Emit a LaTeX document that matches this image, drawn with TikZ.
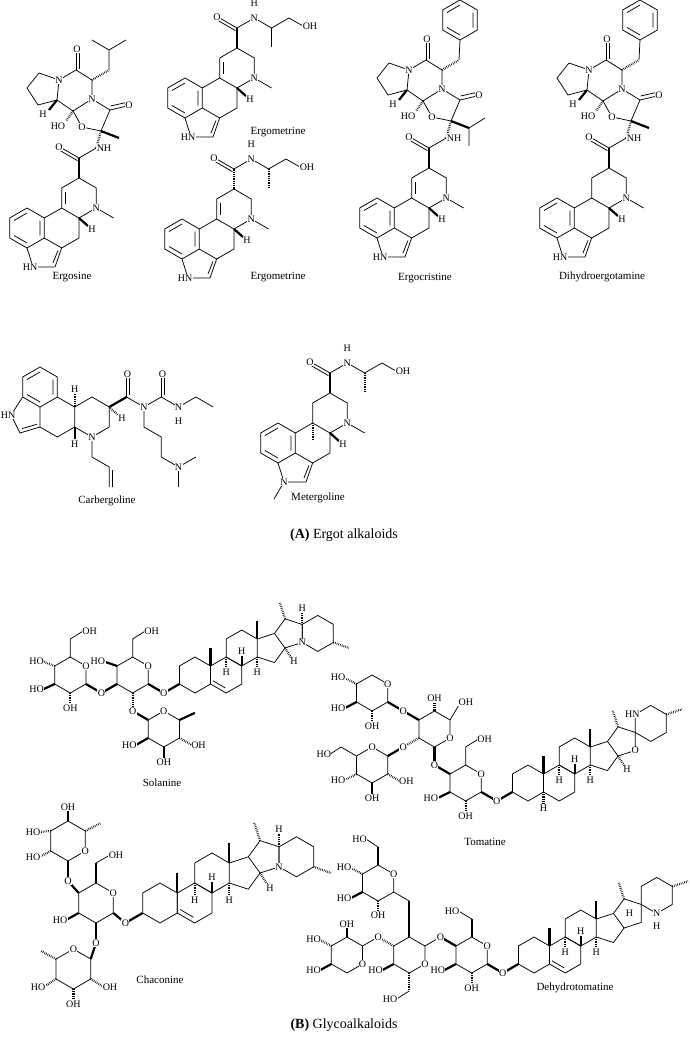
\documentclass[tikz,border=0pt]{standalone}
\usepackage{fontspec}
\setmainfont{Liberation Serif}
\usetikzlibrary{positioning}

% pointy-top ring of unit bond length, centred at (#1,#2)
\newcommand\hexa[2]{\draw (#1,#2) ++(0,-1) -- ++(.866,.5) -- ++(0,1) -- ++(-.866,.5) -- ++(-.866,-.5) -- ++(0,-1) -- cycle;}
\newcommand\arom[2]{\draw (#1,#2) ++(-.65,-.375) -- ++(.65,-.375) (#1,#2) ++(.65,-.375) -- ++(0,.75) (#1,#2) ++(0,.75) -- ++(-.65,-.375);}

% ergoline skeleton, #1 = 1 for the 9,10 double bond
\newcommand\ergoline[1]{%
  \hexa{0}{0} \arom{0}{0}
  \draw (.866,-.5) -- (1.732,-1) -- (2.598,-.5) -- (2.598,.5) -- (1.732,1) -- (.866,.5);
  \draw (0,1) -- (.3,1.95) -- (1.4,1.95) -- (1.732,1);
  \draw (1.3,1.75) -- (1.55,1.12);
  \draw (1.732,-1) -- (1.732,-2) -- (2.598,-2.5) -- (3.464,-2) -- (3.464,-1) -- (2.598,-.5);
  \draw (3.464,-1) -- (4.33,-.5);
  \ifnum#1=1 \draw (1.9,-1.2) -- (1.9,-1.8);\fi
  \draw[wedge] (2.598,-.5) -- (3.05,-.1);
  \node[atom] at (3.25,.05) {H};
  \node[atom] at (3.464,-1) {N};
}
\newcommand\amide[1]{%
  \draw[#1] (2.598,-2.5) -- (2.598,-3.5);
  \draw (2.598,-3.5) -- (3.464,-4) (2.598,-3.5) -- (1.732,-4) (2.52,-3.37) -- (1.66,-3.87);
  \node[atom] at (1.6,-4.05) {O};
}
\newcommand\hydroxyprop[1]{%
  \draw (3.464,-4) -- (4.33,-3.5) -- (5.196,-4) -- (5.9,-3.6);
  \draw[#1] (4.33,-3.5) -- (4.33,-2.55);
  \node[atom] at (3.464,-4) {N};
  \node[atom] at (3.464,-4.75) {H};
  \node[atom,anchor=west] at (5.85,-3.6) {OH};
}
% cyclol peptide, #1 = 1 isobutyl / 2 benzyl, #2 = 1 methyl / 2 isopropyl
\newcommand\cyclol[2]{%
  \draw[hash] (3.464,-4) -- (3.7,-4.85);
  \draw (3.7,-4.85) -- (2.75,-5.05) -- (2.3,-5.85) -- (3.25,-6.45) -- (4.15,-5.9) -- cycle;
  \draw (4.15,-5.9) -- (5.0,-6.1) (4.18,-6.1) -- (4.98,-6.28);
  \draw (3.25,-6.45) -- (3.25,-7.4) -- (2.45,-7.9) -- (1.6,-7.4) -- (1.5,-6.4) -- (2.3,-5.85);
  \draw (2.45,-7.9) -- (2.45,-8.8) (2.62,-7.95) -- (2.62,-8.8);
  \draw (1.6,-7.4) -- (.6,-7.75) -- (0,-7.0) -- (.55,-6.15) -- (1.5,-6.4);
  \draw[wedge] (1.5,-6.4) -- (1.1,-5.9);
  \draw[hash] (2.3,-5.85) -- (1.95,-5.35);
  \draw[hash] (3.25,-7.4) -- (4.1,-7.9);
  \ifnum#1=1 \draw (4.1,-7.9) -- (4.1,-8.9) -- (3.25,-9.4) (4.1,-8.9) -- (4.95,-9.4);\fi
  \ifnum#1=2 \draw (4.1,-7.9) -- (4.15,-8.9); \hexa{4.15}{-9.9} \arom{4.15}{-9.9}\fi
  \ifnum#2=1 \draw[wedge] (3.7,-4.85) -- (4.6,-4.5);\fi
  \ifnum#2=2 \draw[wedge] (3.7,-4.85) -- (4.6,-4.5); \draw (4.6,-4.5) -- (5.4,-5.0) (4.6,-4.5) -- (4.6,-3.6);\fi
  \node[atom] at (3.85,-4) {NH};
  \node[atom] at (2.75,-5.05) {O};
  \node[atom] at (3.25,-6.45) {N};
  \node[atom] at (5.1,-6.15) {O};
  \node[atom] at (1.6,-7.4) {N};
  \node[atom] at (2.5,-8.95) {O};
  \node[atom] at (.8,-5.7) {H};
  \node[atom] at (1.55,-5.1) {HO};
}
% steroid nucleus with 3-O, #1 = 1 for the 5,6 double bond
\newcommand\steroid[1]{%
  \hexa{0}{0} \hexa{1.732}{0} \hexa{2.598}{-1.5}
  \draw (3.464,-2) -- (4.415,-2.309) -- (5.003,-1.5) -- (4.415,-.691) -- (3.464,-1);
  \draw[wedge] (.866,-.5) -- (.866,-1.5);
  \draw[wedge] (3.464,-2) -- (3.464,-3);
  \draw[wedge] (-.866,.5) -- (-1.732,1);
  \ifnum#1=1 \draw (1.0,.32) -- (1.68,.72);\fi
  \draw[hash] (1.732,-1) -- (1.732,-.4);
  \draw[wedge] (2.598,-.5) -- (2.598,-1.05);
  \draw[hash] (3.464,-1) -- (3.464,-.4);
  \node[atom] at (1.732,-.15) {H};
  \node[atom] at (2.598,-1.3) {H};
  \node[atom] at (3.464,-.15) {H};
  \node[atom] at (-1.732,1) {O};
}
\newcommand\solanidine{%
  \draw (4.415,-2.309) -- (5.003,-3.119) -- (5.954,-2.81) -- (5.954,-1.81) -- (5.003,-1.5);
  \hexa{6.82}{-2.31}
  \draw[hash] (5.003,-3.119) -- (4.7,-4.05);
  \draw[hash] (5.954,-2.81) -- (5.954,-3.45);
  \draw[hash] (5.003,-1.5) -- (5.35,-.95);
  \draw[hash] (7.686,-1.81) -- (8.55,-1.5);
  \node[atom] at (5.954,-3.7) {H};
  \node[atom] at (5.5,-.75) {H};
  \node[atom] at (5.954,-1.81) {N};
}
% spiro ring F, #1 = 1 oxolane (tomatine) / 2 carbocycle (dehydrotomatine)
\newcommand\spiro[1]{%
  \draw (4.415,-2.309) -- (5.003,-3.119) -- (5.954,-2.81) -- (5.954,-1.81) -- (5.003,-1.5);
  \hexa{6.82}{-3.31}
  \draw[hash] (5.003,-3.119) -- (4.7,-4.05);
  \draw[hash] (7.686,-3.81) -- (8.55,-4.1);
  \ifnum#1=1
    \draw[hash] (5.003,-1.5) -- (5.35,-.95);
    \node[atom] at (5.5,-.75) {H};
    \node[atom] at (5.954,-1.81) {O};
    \node[atom] at (5.8,-3.81) {HN};
  \else
    \node[atom] at (6.82,-2.31) {N};
    \node[atom] at (6.82,-1.6) {H};
    \node[atom] at (5.3,-2.3) {H};
  \fi
}

\begin{document}
\begin{tikzpicture}[
  x=1pt, y=-1pt,
  line width=.75pt,
  atom/.style={fill=white, inner sep=.4pt, font=\fontsize{10}{10}\selectfont},
  molname/.style={font=\fontsize{11}{12}\selectfont},
  wedge/.style={line width=2.2pt},
  hash/.style={line width=2.2pt, dash pattern=on .6pt off 1.2pt}
]
\fill[white] (0,0) rectangle (689,1039);
\useasboundingbox (0,0) rectangle (689,1039);

% ---- (A) ergot alkaloids
\begin{scope}[shift={(27,228)}, scale=20]
  \ergoline{1} \amide{wedge} \cyclol{1}{1}
  \node[atom,anchor=east] at (.55,1.95) {HN};
\end{scope}
\node[molname] (ergosine) at (72,277) {Ergosine};

\begin{scope}[shift={(185,98)}, scale=20]
  \ergoline{1} \amide{wedge} \hydroxyprop{}
  \node[atom,anchor=east] at (.55,1.95) {HN};
\end{scope}
\node[molname] (ergometrine1) at (278,132) {Ergometrine};

\begin{scope}[shift={(182,239)}, scale=20]
  \ergoline{1} \amide{hash} \hydroxyprop{hash}
  \node[atom,anchor=east] at (.55,1.95) {HN};
\end{scope}
\node[molname] (ergometrine2) at (278,277) {Ergometrine};

\begin{scope}[shift={(377,218)}, scale=20]
  \ergoline{1} \amide{wedge} \cyclol{2}{2}
  \node[atom,anchor=east] at (.55,1.95) {HN};
\end{scope}
\node[molname] (ergocristine) at (425,278) {Ergocristine};

\begin{scope}[shift={(557,218)}, scale=20]
  \ergoline{0} \amide{wedge} \cyclol{2}{1}
  \node[atom,anchor=east] at (.55,1.95) {HN};
\end{scope}
\node[molname] (dihydro) at (602,277) {Dihydroergotamine};

% cabergoline
\begin{scope}[shift={(40,387)}, scale=20]
  \hexa{0}{0} \arom{0}{0}
  \draw (.866,.5) -- (1.732,1) -- (1.732,2) -- (.866,2.5) -- (0,2) -- (0,1);
  \draw (-.866,.5) -- (-1.45,1.4) -- (-1.0,2.3) -- (0,2);
  \draw (-.9,2.08) -- (-.15,1.86);
  \draw (1.732,1) -- (2.598,.5) -- (3.464,1) -- (3.464,2) -- (2.598,2.5) -- (1.732,2);
  \draw (2.598,2.5) -- (2.598,3.5) -- (3.464,4) -- (3.464,5) (3.62,4.15) -- (3.62,5);
  \draw[wedge] (3.464,1) -- (4.33,.5);
  \draw (4.33,.5) -- (4.33,-.5) (4.48,.42) -- (4.48,-.5);
  \draw (4.33,.5) -- (5.196,1) -- (6.062,.5) -- (6.928,1) -- (7.794,.5) -- (8.66,1);
  \draw (6.062,.5) -- (6.062,-.5) (6.21,.42) -- (6.21,-.5);
  \draw (5.196,1) -- (5.196,2) -- (6.062,2.5) -- (6.062,3.5) -- (6.928,4) -- (7.794,3.5) (6.928,4) -- (6.928,5);
  \draw[hash] (1.732,1) -- (1.732,.35);
  \draw[wedge] (1.732,2) -- (1.732,2.6);
  \draw[hash] (3.464,1) -- (3.9,1.4);
  \node[atom] at (1.732,.1) {H};
  \node[atom] at (1.732,2.85) {H};
  \node[atom] at (4.1,1.55) {H};
  \node[atom,anchor=east] at (-1.2,1.4) {HN};
  \node[atom] at (2.598,2.5) {N};
  \node[atom] at (4.38,-.65) {O};
  \node[atom] at (6.12,-.65) {O};
  \node[atom] at (5.196,1) {N};
  \node[atom] at (6.928,1) {N};
  \node[atom] at (6.928,1.7) {H};
  \node[atom] at (6.928,4) {N};
\end{scope}
\node[molname] (carbergoline) at (107,501) {Carbergoline};

\begin{scope}[shift={(278,443)}, scale=20]
  \ergoline{0} \amide{wedge} \hydroxyprop{hash}
  \draw[hash] (1.732,-1) -- (1.732,-.15);
  \draw (.3,1.95) -- (-.2,2.8);
  \node[atom] at (.3,1.95) {N};
\end{scope}
\node[molname] (metergoline) at (318,498) {Metergoline};

\node[font=\fontsize{14}{15}\selectfont] (capA) at (344,535) {\textbf{(A)} Ergot alkaloids};

% ---- (B) glycoalkaloids
% solanine
\begin{scope}[shift={(195,675)}, scale=18]
  \hexa{-3.464}{0} \hexa{-6.928}{0} \hexa{-1.732}{3}
  \draw[wedge] (-2.598,.5) -- (-1.732,1);
  \draw (-3.464,-1) -- (-3.464,-2) -- (-2.75,-2.45);
  \draw[wedge] (-4.33,-.5) -- (-5.05,-.75);
  \draw[wedge] (-4.33,.5) -- (-5.196,1); \draw[wedge] (-6.062,.5) -- (-5.196,1);
  \draw[hash] (-3.464,1) -- (-3.464,2); \draw[wedge] (-2.598,2.5) -- (-3.464,2);
  \draw (-6.928,-1) -- (-6.928,-2) -- (-6.2,-2.45);
  \draw[hash] (-7.794,-.5) -- (-8.45,-.75);
  \draw[wedge] (-7.794,.5) -- (-8.45,.8);
  \draw[hash] (-6.928,1) -- (-6.928,1.7);
  \draw[wedge] (-.866,2.5) -- (0,2.1);
  \draw[hash] (-.866,3.5) -- (-.15,3.9);
  \draw[wedge] (-1.732,4) -- (-1.732,4.7);
  \draw[wedge] (-2.598,3.5) -- (-3.3,3.9);
  \node[atom] at (-2.598,-.5) {O};
  \node[atom] at (-6.062,-.5) {O};
  \node[atom] at (-1.732,2) {O};
  \node[atom] at (-5.196,1) {O};
  \node[atom] at (-3.464,2) {O};
  \node[atom,anchor=west] at (-2.85,-2.45) {OH};
  \node[atom,anchor=west] at (-6.3,-2.45) {OH};
  \node[atom,anchor=east] at (-4.95,-.75) {HO};
  \node[atom,anchor=east] at (-8.35,-.75) {HO};
  \node[atom,anchor=east] at (-8.35,.8) {HO};
  \node[atom,anchor=north] at (-6.928,1.6) {OH};
  \node[atom,anchor=west] at (-.25,3.9) {OH};
  \node[atom,anchor=north] at (-1.732,4.6) {OH};
  \node[atom,anchor=east] at (-3.2,3.9) {HO};
  \steroid{1} \solanidine
\end{scope}
\node[molname] (solanine) at (162,783) {Solanine};

% tomatine
\begin{scope}[shift={(528,783)}, scale=18]
  \hexa{-3.464}{0} \hexa{-5.196}{-3} \hexa{-8.66}{-1} \hexa{-8.66}{-5}
  \draw[wedge] (-2.598,.5) -- (-1.732,1);
  \draw (-3.464,-1) -- (-3.464,-2) -- (-2.75,-2.45);
  \draw[wedge] (-4.33,.5) -- (-5.05,.85);
  \draw[hash] (-3.464,1) -- (-3.464,1.7);
  \draw[wedge] (-4.33,-.5) -- (-5.196,-1); \draw[wedge] (-5.196,-2) -- (-5.196,-1);
  \draw (-4.33,-3.5) -- (-3.8,-4.4);
  \draw[hash] (-5.196,-4) -- (-5.196,-4.6);
  \draw[hash] (-6.062,-2.5) -- (-6.928,-2); \draw[wedge] (-7.794,-1.5) -- (-6.928,-2);
  \draw[wedge] (-6.062,-3.5) -- (-6.928,-4); \draw[wedge] (-7.794,-4.5) -- (-6.928,-4);
  \draw[hash] (-7.794,-.5) -- (-7.1,-.1);
  \draw[wedge] (-8.66,0) -- (-8.66,.7);
  \draw[hash] (-9.526,-.5) -- (-10.2,-.15);
  \draw (-9.526,-1.5) -- (-10.39,-2) -- (-11.0,-1.6);
  \draw[hash] (-8.66,-4) -- (-8.66,-3.3);
  \draw[wedge] (-9.526,-4.5) -- (-10.2,-4.15);
  \draw[hash] (-9.526,-5.5) -- (-10.2,-5.85);
  \node[atom] at (-2.598,-.5) {O};
  \node[atom] at (-5.196,-1) {O};
  \node[atom] at (-4.33,-2.5) {O};
  \node[atom] at (-6.928,-2) {O};
  \node[atom] at (-6.928,-4) {O};
  \node[atom] at (-8.66,-2) {O};
  \node[atom] at (-7.794,-5.5) {O};
  \node[atom,anchor=west] at (-2.85,-2.45) {OH};
  \node[atom,anchor=east] at (-4.95,.85) {HO};
  \node[atom,anchor=north] at (-3.464,1.6) {OH};
  \node[atom,anchor=west] at (-3.9,-4.5) {OH};
  \node[atom,anchor=south] at (-5.196,-4.5) {OH};
  \node[atom,anchor=west] at (-7.2,-.1) {OH};
  \node[atom,anchor=north] at (-8.66,.6) {OH};
  \node[atom,anchor=east] at (-10.1,-.15) {HO};
  \node[atom,anchor=east] at (-10.9,-1.6) {HO};
  \node[atom,anchor=north] at (-8.66,-3.4) {OH};
  \node[atom,anchor=east] at (-10.1,-4.15) {HO};
  \node[atom,anchor=east] at (-10.1,-5.85) {HO};
  \steroid{0} \spiro{1}
  \draw[hash] (.866,.5) -- (.866,1.15);
  \node[atom] at (.866,1.4) {H};
\end{scope}
\node[molname] (tomatine) at (485,842) {Tomatine};

% chaconine
\begin{scope}[shift={(160,903)}, scale=20]
  \hexa{-3.2}{0} \hexa{-4.6}{-3.1} \hexa{-4.33}{3.3}
  \draw[wedge] (-2.334,.5) -- (-1.732,1);
  \draw[wedge] (-3.2,-1) -- (-3.2,-2); \draw (-3.2,-2) -- (-2.5,-2.4);
  \draw[wedge] (-3.2,1) -- (-3.2,2); \draw[wedge] (-3.464,2.8) -- (-3.2,2);
  \draw[wedge] (-4.066,.5) -- (-4.7,.85);
  \draw[wedge] (-4.066,-.5) -- (-4.6,-1.1); \draw[wedge] (-4.6,-2.1) -- (-4.6,-1.1);
  \draw[hash] (-3.734,-3.6) -- (-2.95,-4.0);
  \draw[wedge] (-4.6,-4.1) -- (-4.6,-4.7);
  \draw[hash] (-5.466,-3.6) -- (-6.05,-3.55);
  \draw[hash] (-5.466,-2.6) -- (-6.05,-2.3);
  \draw[hash] (-3.464,3.8) -- (-2.8,4.2);
  \draw[hash] (-4.33,4.3) -- (-4.33,4.95);
  \draw[hash] (-5.196,3.8) -- (-5.8,4.2);
  \draw[hash] (-5.196,2.8) -- (-5.95,2.4);
  \node[atom] at (-2.334,-.5) {O};
  \node[atom] at (-3.2,2) {O};
  \node[atom] at (-4.6,-1.1) {O};
  \node[atom] at (-3.734,-2.6) {O};
  \node[atom] at (-4.33,2.3) {O};
  \node[atom,anchor=west] at (-2.6,-2.4) {OH};
  \node[atom,anchor=east] at (-4.6,.85) {HO};
  \node[atom,anchor=south] at (-4.6,-4.6) {OH};
  \node[atom,anchor=east] at (-5.95,-3.55) {HO};
  \node[atom,anchor=east] at (-5.95,-2.3) {HO};
  \node[atom,anchor=west] at (-2.9,4.2) {OH};
  \node[atom,anchor=north] at (-4.33,4.85) {OH};
  \node[atom,anchor=east] at (-5.7,4.2) {HO};
  \steroid{1} \solanidine
\end{scope}
\node[molname] (chaconine) at (160,980) {Chaconine};

% dehydrotomatine
\begin{scope}[shift={(534,955)}, scale=18]
  \hexa{-3.464}{0} \hexa{-6.928}{0} \hexa{-8.66}{-4} \hexa{-10.392}{0}
  \draw[wedge] (-2.598,.5) -- (-1.732,1);
  \draw[wedge] (-3.464,-1) -- (-3.464,-2); \draw (-3.464,-2) -- (-4.2,-2.45);
  \draw[wedge] (-4.33,.5) -- (-5.0,.85);
  \draw[hash] (-3.464,1) -- (-3.464,1.7);
  \draw[wedge] (-4.33,-.5) -- (-5.196,-1); \draw (-6.062,-.5) -- (-5.196,-1);
  \draw[hash] (-6.928,1) -- (-6.928,2); \draw (-6.928,2) -- (-7.65,2.45);
  \draw[wedge] (-7.794,.5) -- (-8.45,.85);
  \draw[hash] (-7.794,-.5) -- (-8.66,-1); \draw (-9.526,-.5) -- (-8.66,-1);
  \draw[wedge] (-6.928,-1) -- (-6.928,-3); \draw (-6.928,-3) -- (-7.794,-3.5);
  \draw[wedge] (-8.66,-5) -- (-8.66,-6); \draw (-8.66,-6) -- (-9.35,-6.45);
  \draw[hash] (-9.526,-4.5) -- (-10.2,-4.85);
  \draw[wedge] (-9.526,-3.5) -- (-10.2,-3.15);
  \draw[hash] (-8.66,-3) -- (-8.66,-2.35);
  \draw[wedge] (-11.258,.5) -- (-11.9,.85);
  \draw[hash] (-11.258,-.5) -- (-11.9,-.85);
  \draw[wedge] (-10.392,-1) -- (-10.392,-1.6);
  \node[atom] at (-2.598,-.5) {O};
  \node[atom] at (-5.196,-1) {O};
  \node[atom] at (-6.062,.5) {O};
  \node[atom] at (-8.66,-1) {O};
  \node[atom] at (-7.794,-4.5) {O};
  \node[atom] at (-9.526,.5) {O};
  \node[atom,anchor=east] at (-4.1,-2.45) {HO};
  \node[atom,anchor=east] at (-4.9,.85) {HO};
  \node[atom,anchor=north] at (-3.464,1.6) {OH};
  \node[atom,anchor=east] at (-7.55,2.45) {HO};
  \node[atom,anchor=east] at (-8.35,.85) {HO};
  \node[atom,anchor=east] at (-9.25,-6.45) {HO};
  \node[atom,anchor=east] at (-10.1,-4.85) {HO};
  \node[atom,anchor=east] at (-10.1,-3.15) {HO};
  \node[atom,anchor=north] at (-8.66,-2.45) {OH};
  \node[atom,anchor=east] at (-11.8,.85) {HO};
  \node[atom,anchor=east] at (-11.8,-.85) {HO};
  \node[atom,anchor=south] at (-10.392,-1.5) {OH};
  \steroid{1} \spiro{2}
\end{scope}
\node[molname] (dehydrotomatine) at (575,988) {Dehydrotomatine};

\node[font=\fontsize{14}{15}\selectfont] (capB) at (344,1025) {\textbf{(B)} Glycoalkaloids};
\end{tikzpicture}
\end{document}
